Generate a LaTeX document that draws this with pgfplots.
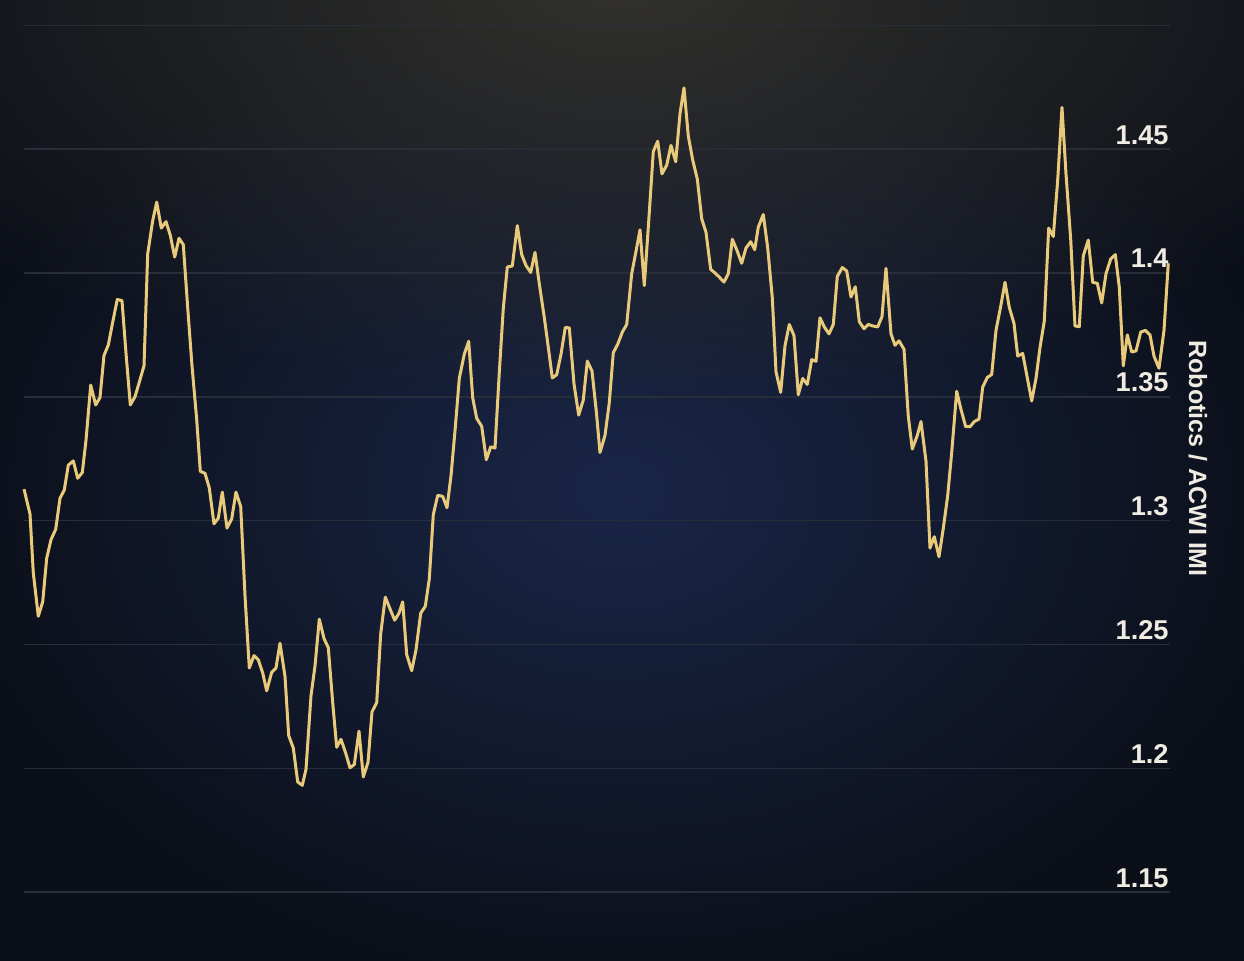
\documentclass[border=0pt]{standalone}
\usepackage{pgfplots}
\pgfplotsset{compat=1.18}
\usepackage{fontspec}
\setmainfont{Liberation Sans}
\usetikzlibrary{fadings}

\definecolor{bgin}{HTML}{1A2648}
\definecolor{bgout}{HTML}{0B0F18}
\definecolor{glow}{HTML}{32312D}
\definecolor{gridc}{HTML}{272D39}
\definecolor{linec}{HTML}{E9C97A}
\definecolor{txt}{HTML}{F0EBE3}

\tikzfading[name=glowfade, inner color=transparent!0, outer color=transparent!100]

\pgfplotstableread{
x y
24 1.3127
30 1.3027
33.3 1.2789
38.3 1.2614
42.7 1.2672
46.7 1.2848
51 1.2923
55.7 1.2965
60 1.3090
64.3 1.3124
68.3 1.3224
73.3 1.3241
77.7 1.3171
82.3 1.3194
86 1.3324
90.7 1.3547
95.7 1.3467
100 1.3497
104 1.3667
108.3 1.3709
112.7 1.3801
117.3 1.3893
122 1.3888
126 1.3676
130.3 1.3467
135 1.3500
139.3 1.3559
144 1.3625
147.7 1.4077
152.7 1.4211
156.7 1.4286
161.3 1.4181
166 1.4207
170.3 1.4152
174.7 1.4064
179 1.4140
183.3 1.4114
187.7 1.3860
192 1.3625
196.7 1.3408
200.3 1.3199
205 1.3191
209.3 1.3132
214 1.2987
218.3 1.3010
222.3 1.3115
227 1.2970
231.7 1.3007
236 1.3115
240.7 1.3057
245 1.2697
249.3 1.2405
254 1.2455
258.3 1.2438
262.7 1.2385
266.7 1.2313
271.7 1.2388
276 1.2405
280 1.2505
285 1.2371
288.7 1.2132
293.3 1.2082
297.7 1.1945
302.3 1.1931
306 1.1996
311 1.2293
315 1.2413
319.3 1.2602
324 1.2524
328.3 1.2487
332.7 1.2265
336.7 1.2085
341 1.2117
345.7 1.2061
350 1.2002
354.3 1.2015
359 1.2150
363.3 1.1965
368 1.2024
372 1.2228
376.7 1.2265
380.7 1.2543
385.3 1.2691
390 1.2644
394.7 1.2598
399 1.2626
402.7 1.2672
406.7 1.2459
411.7 1.2394
416 1.2478
420.7 1.2626
425.3 1.2654
429.3 1.2765
433.3 1.3024
437.7 1.3102
442.7 1.3098
447 1.3052
451 1.3181
455.3 1.3376
459.3 1.3574
464.3 1.3672
468.7 1.3724
472.7 1.3496
476.7 1.3413
481.7 1.3381
486.3 1.3246
490.7 1.3298
495 1.3293
499.3 1.3598
503.3 1.3857
507.3 1.4024
512.3 1.4028
517.3 1.4191
521.7 1.4074
526 1.4030
530.7 1.4002
535 1.4083
539.3 1.3956
544.3 1.3820
548.3 1.3700
552.3 1.3576
556.7 1.3589
561 1.3672
565.3 1.3780
569.3 1.3778
574 1.3552
578.7 1.3426
583.3 1.3487
587.3 1.3644
592 1.3604
596.3 1.3441
600 1.3275
605 1.3344
609.3 1.3476
613.3 1.3678
617.7 1.3712
622.3 1.3761
626.7 1.3792
631.7 1.3997
636 1.4087
640 1.4174
644.3 1.3949
649 1.4226
653.3 1.4490
657.7 1.4532
662 1.4400
666.7 1.4435
671 1.4515
675.7 1.4449
680 1.4643
684 1.4747
688.3 1.4553
692.7 1.4456
697.3 1.4379
701.7 1.4219
706 1.4164
710.7 1.4014
715 1.4000
719.3 1.3983
724 1.3963
728.3 1.3997
732.3 1.4136
736.7 1.4094
741.7 1.4039
746 1.4101
750.7 1.4126
754.7 1.4094
758.3 1.4185
763.3 1.4236
767.7 1.4101
772.3 1.3900
776 1.3601
780.7 1.3518
785 1.3706
789.3 1.3792
794 1.3747
798.3 1.3508
802.7 1.3574
807.3 1.3550
811.7 1.3650
816 1.3643
820 1.3819
824.3 1.3782
829 1.3754
833.3 1.3792
837.3 1.3986
842.3 1.4022
846.7 1.4008
851 1.3903
855.3 1.3944
859.3 1.3803
864 1.3775
868.3 1.3792
872.7 1.3786
877.7 1.3782
882 1.3824
886 1.4018
891 1.3754
895 1.3708
899 1.3726
904 1.3692
908.3 1.3421
912.3 1.3289
917.3 1.3344
921 1.3400
926 1.3240
930 1.2889
934.3 1.2935
939 1.2854
943.3 1.2969
947.7 1.3101
951.7 1.3275
956.7 1.3522
961 1.3449
965.7 1.3379
970 1.3379
974.3 1.3400
979 1.3410
982.7 1.3539
987.3 1.3578
991.7 1.3590
996 1.3768
1000.7 1.3865
1005 1.3962
1009.3 1.3861
1014 1.3796
1017.7 1.3664
1022.7 1.3675
1027 1.3583
1031.7 1.3483
1036 1.3574
1040 1.3699
1044.3 1.3806
1048.7 1.4181
1053.3 1.4147
1057.7 1.4375
1062 1.4668
1066 1.4400
1070.7 1.4136
1075 1.3786
1079.3 1.3783
1083.3 1.4069
1088.3 1.4133
1092.7 1.3962
1097.3 1.3958
1101.7 1.3879
1106 1.3997
1110.7 1.4056
1115.3 1.4074
1119.3 1.3942
1123.3 1.3625
1127.3 1.3750
1131.7 1.3681
1136 1.3685
1140.7 1.3761
1145.3 1.3768
1150 1.3750
1154 1.3664
1159 1.3615
1164 1.3768
1168.3 1.4039
}\ratio

\begin{document}
\begin{tikzpicture}[x=0.5pt,y=0.5pt]
  \useasboundingbox (0,0) rectangle (1244,960);
  % background: dark navy with a blue centre and a warm glow at the top
  \fill[bgout] (-10,-10) rectangle (1254,970);
  \begin{scope}
    \clip (-10,-10) rectangle (1254,970);
    \shade[inner color=bgin, outer color=bgout] (620,470) ellipse (680 and 500);
    \fill[glow, path fading=glowfade] (620,975) ellipse (850 and 420);
  \end{scope}

  \begin{axis}[
    at={(0,0)}, anchor=south west,
    scale only axis,
    width=622pt, height=480pt,
    xmin=0, xmax=1244,
    ymin=1.1226, ymax=1.5102,
    hide axis,
    clip=false,
  ]
    % grid lines
    \foreach \g in {1.15,1.2,1.25,1.3,1.35,1.4,1.45,1.5} {
      \edef\tmp{\noexpand\addplot[gridc, line width=0.75pt, forget plot]
        coordinates {(24,\g) (1170,\g)};}
      \tmp
    }

    \addplot[linec, line width=1.5pt, line join=round] table[x=x, y=y] {\ratio};

    % tick labels sitting on the grid lines
    \foreach \g in {1.15,1.2,1.25,1.3,1.35,1.4,1.45} {
      \edef\tmp{\noexpand\node[anchor=base east, text=txt, inner sep=0pt,
        font=\noexpand\fontsize{13.6}{16}\noexpand\selectfont\noexpand\bfseries]
        at (axis cs:1169,\g) [yshift=2.5pt] {\g};}
      \tmp
    }

    \node[rotate=-90, text=txt, inner sep=0pt,
      font=\fontsize{12.5}{15}\selectfont\bfseries]
      at (axis cs:1198,1.325) {Robotics / ACWI IMI};
  \end{axis}
\end{tikzpicture}
\end{document}
